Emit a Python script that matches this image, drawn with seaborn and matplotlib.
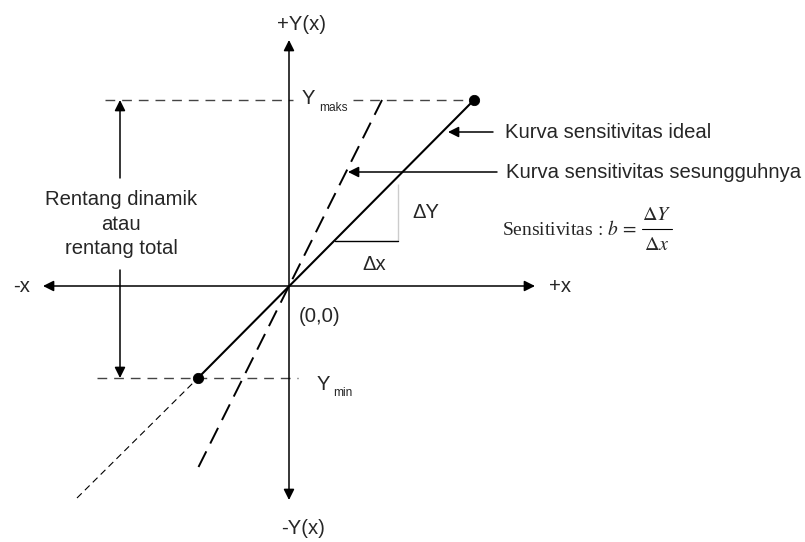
import matplotlib
matplotlib.use("Agg")
import matplotlib.pyplot as plt
import seaborn as sns
import pandas as pd

# ---- data (diagram units, origin at the axes crossing) ----
y_max = 186
y_min = -92
ideal_x = [-91, 185]
ideal_y = [-92, 186]
ideal_ext_x = [-212, -91]
ideal_ext_y = [-212, -92]
actual_x = [-90.5, 93]
actual_y = [-181, 186]
ymax_line_left_x = [-184, 4]
ymax_line_right_x = [64, 185]
ymin_line_x = [-192, 9]
axis_x = [-246, 246]
axis_y = [-214, 246]
range_x = -169
range_up = [108, 186]
range_down = [16, -92]
tri_x = [46, 109, 109]
tri_y = [45, 45, 102]
ideal_arrow_x = [204, 159]
ideal_arrow_y = 154
actual_arrow_x = [208, 59]
actual_arrow_y = 114
frac_bar_x = [353, 383]
frac_bar_y = 57

label_ideal = "Kurva sensitivitas ideal"
label_actual = "Kurva sensitivitas sesungguhnya"
label_range = "Rentang dinamik\natau\nrentang total"
formula_left = r"Sensitivitas$\,:\,b\,=$"
formula_num = r"$\Delta Y$"
formula_den = r"$\Delta x$"

sns.set_theme(style="white")
plt.rcParams["font.family"] = ["Liberation Sans", "DejaVu Sans"]
plt.rcParams["mathtext.fontset"] = "stix"

fig = plt.figure(figsize=(8.05, 5.42), dpi=100)
ax = fig.add_axes([0, 0, 1, 1])
ax.set_xlim(-289, 516)
ax.set_ylim(-256, 286)
ax.axis("off")

FS = 14.6
SUB = 8.6
K = "black"
arrow = dict(arrowstyle="-|>", mutation_scale=16, lw=1.1, color=K,
             shrinkA=0, shrinkB=0)
arrow2 = dict(arrowstyle="<|-|>", mutation_scale=16, lw=1.1, color=K,
              shrinkA=0, shrinkB=0)

# axes with arrows
ax.annotate("", xy=(axis_x[1], 0), xytext=(axis_x[0], 0), arrowprops=arrow2)
ax.annotate("", xy=(0, axis_y[1]), xytext=(0, axis_y[0]), arrowprops=arrow2)

# Ymaks / Ymin dashed guides
guide = dict(color="#444444", lw=1.0, linestyle=(0, (7, 5)))
sns.lineplot(x=ymax_line_left_x, y=[y_max, y_max], ax=ax, **guide)
sns.lineplot(x=ymax_line_right_x, y=[y_max, y_max], ax=ax, **guide)
sns.lineplot(x=ymin_line_x, y=[y_min, y_min], ax=ax, **guide)

# ideal curve
df_ideal = pd.DataFrame({"x": ideal_x, "y": ideal_y})
sns.lineplot(data=df_ideal, x="x", y="y", ax=ax, color=K, lw=1.5)
sns.lineplot(x=ideal_ext_x, y=ideal_ext_y, ax=ax, color=K, lw=0.8,
             linestyle=(0, (6, 4)))
sns.scatterplot(data=df_ideal, x="x", y="y", ax=ax, color=K, s=55,
                edgecolor=K, zorder=5)

# actual curve
df_act = pd.DataFrame({"x": actual_x, "y": actual_y})
sns.lineplot(data=df_act, x="x", y="y", ax=ax, color=K, lw=1.4,
             linestyle=(0, (9, 4.5)))

# triangle
sns.lineplot(x=tri_x[:2], y=tri_y[:2], ax=ax, color=K, lw=1.0)
sns.lineplot(x=tri_x[1:], y=tri_y[1:], ax=ax, color=K, lw=1.0, sort=False)

# range arrows
ax.annotate("", xy=(range_x, range_up[1]), xytext=(range_x, range_up[0]),
            arrowprops=arrow)
ax.annotate("", xy=(range_x, range_down[1]), xytext=(range_x, range_down[0]),
            arrowprops=arrow)

# label arrows
ax.annotate("", xy=(ideal_arrow_x[1], ideal_arrow_y),
            xytext=(ideal_arrow_x[0], ideal_arrow_y), arrowprops=arrow)
ax.annotate("", xy=(actual_arrow_x[1], actual_arrow_y),
            xytext=(actual_arrow_x[0], actual_arrow_y), arrowprops=arrow)

# texts
ax.text(12, 261, "+Y(x)", fontsize=FS, ha="center", va="center")
ax.text(14, -242, "-Y(x)", fontsize=FS, ha="center", va="center")
ax.text(-267, 0, "-x", fontsize=FS, ha="center", va="center")
ax.text(271, 0, "+x", fontsize=FS, ha="center", va="center")
ax.text(31, -31, "(0,0)", fontsize=FS, ha="center", va="center")

ax.text(13, y_max + 2, "Y", fontsize=FS, ha="left", va="center")
ax.text(30, y_max - 8, "maks", fontsize=SUB, ha="left", va="center")
ax.text(28, y_min - 6, "Y", fontsize=FS, ha="left", va="center")
ax.text(44, y_min - 15, "min", fontsize=SUB, ha="left", va="center")

ax.text(-168, 62, label_range, fontsize=FS, ha="center", va="center",
        linespacing=1.38)
ax.text(216, ideal_arrow_y, label_ideal, fontsize=FS, ha="left",
        va="center")
ax.text(217, actual_arrow_y, label_actual, fontsize=FS, ha="left",
        va="center")
ax.text(137, 74, "ΔY", fontsize=FS, ha="center", va="center")
ax.text(85, 21, "Δx", fontsize=FS, ha="center", va="center")

serif = ["Liberation Serif", "DejaVu Serif"]
ax.text(213, frac_bar_y - 6, formula_left, fontsize=14, ha="left",
        va="baseline", family=serif)
sns.lineplot(x=frac_bar_x, y=[frac_bar_y, frac_bar_y], ax=ax, color=K,
             lw=0.8)
ax.text(sum(frac_bar_x) / 2, frac_bar_y + 13, formula_num, fontsize=14.5,
        ha="center", va="center", family=serif)
ax.text(sum(frac_bar_x) / 2, frac_bar_y - 16, formula_den, fontsize=14.5,
        ha="center", va="center", family=serif)

fig.savefig("out.png", dpi=100, facecolor="white")
